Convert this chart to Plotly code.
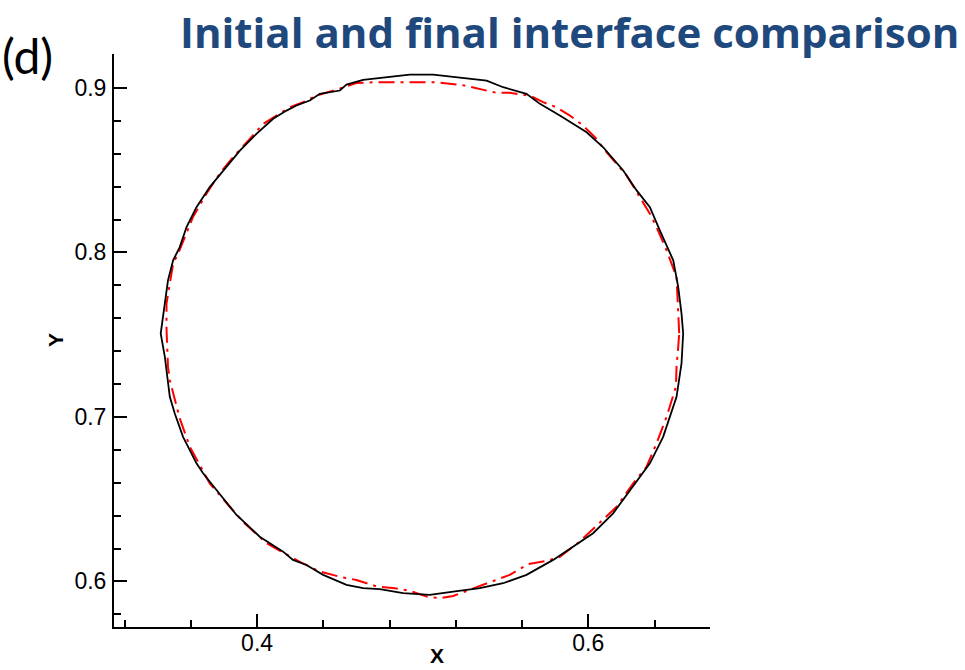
import plotly.graph_objects as go

# Final interface (solid black contour), traced counter-clockwise from x max
final_x = [0.6573, 0.6563, 0.6543, 0.6513, 0.6432, 0.6372, 0.6292, 0.6211, 0.6090, 0.5990,
           0.5828, 0.5708, 0.5627, 0.5486, 0.5386, 0.5224, 0.5063, 0.4922, 0.4761, 0.4640,
           0.4540, 0.4500, 0.4379, 0.4318, 0.4238, 0.4178, 0.4097, 0.3996, 0.3896, 0.3815,
           0.3714, 0.3634, 0.3574, 0.3533, 0.3493, 0.3462, 0.3432, 0.3418, 0.3443, 0.3453,
           0.3473, 0.3503, 0.3553, 0.3634, 0.3674, 0.3755, 0.3876, 0.4016, 0.4157, 0.4217,
           0.4298, 0.4399, 0.4540, 0.4640, 0.4741, 0.4882, 0.5043, 0.5184, 0.5345, 0.5486,
           0.5627, 0.5788, 0.5909, 0.6029, 0.6150, 0.6271, 0.6372, 0.6452, 0.6493, 0.6533,
           0.6563, 0.6573]
final_y = [0.7507, 0.7628, 0.7790, 0.7952, 0.8134, 0.8275, 0.8377, 0.8498, 0.8639, 0.8730,
           0.8832, 0.8903, 0.8964, 0.9004, 0.9044, 0.9064, 0.9081, 0.9081, 0.9061, 0.9049,
           0.9020, 0.8984, 0.8964, 0.8923, 0.8893, 0.8862, 0.8812, 0.8721, 0.8619, 0.8518,
           0.8397, 0.8275, 0.8154, 0.8032, 0.7952, 0.7830, 0.7588, 0.7507, 0.7365, 0.7284,
           0.7122, 0.7021, 0.6879, 0.6718, 0.6657, 0.6556, 0.6404, 0.6272, 0.6181, 0.6131,
           0.6100, 0.6040, 0.5979, 0.5959, 0.5953, 0.5929, 0.5918, 0.5938, 0.5959, 0.5989,
           0.6040, 0.6131, 0.6211, 0.6293, 0.6414, 0.6576, 0.6718, 0.6879, 0.7001, 0.7122,
           0.7325, 0.7507]

# Initial interface (red dash-dot contour)
initial_x = [0.6549, 0.6543, 0.6533, 0.6473, 0.6412, 0.6372, 0.6311, 0.6231, 0.6110, 0.6050,
             0.5969, 0.5889, 0.5808, 0.5727, 0.5647, 0.5526, 0.5446, 0.5345, 0.5235, 0.5063,
             0.4892, 0.4721, 0.4600, 0.4500, 0.4359, 0.4278, 0.4198, 0.4097, 0.4036, 0.3956,
             0.3855, 0.3775, 0.3694, 0.3613, 0.3574, 0.3523, 0.3493, 0.3453, 0.3453, 0.3459,
             0.3462, 0.3473, 0.3513, 0.3533, 0.3594, 0.3714, 0.3835, 0.3915, 0.4057, 0.4258,
             0.4379, 0.4500, 0.4600, 0.4721, 0.4832, 0.4922, 0.5031, 0.5103, 0.5184, 0.5273,
             0.5387, 0.5526, 0.5637, 0.5748, 0.5828, 0.5949, 0.5990, 0.6171, 0.6271, 0.6352,
             0.6412, 0.6473, 0.6529, 0.6533, 0.6544, 0.6549]
initial_y = [0.7509, 0.7668, 0.7850, 0.8012, 0.8154, 0.8235, 0.8336, 0.8468, 0.8609, 0.8690,
             0.8771, 0.8832, 0.8882, 0.8913, 0.8953, 0.8970, 0.8970, 0.8994, 0.9018, 0.9035,
             0.9035, 0.9035, 0.9030, 0.8996, 0.8953, 0.8913, 0.8882, 0.8822, 0.8781, 0.8690,
             0.8579, 0.8480, 0.8357, 0.8215, 0.8114, 0.7992, 0.7932, 0.7689, 0.7539, 0.7418,
             0.7304, 0.7223, 0.7061, 0.6991, 0.6818, 0.6596, 0.6454, 0.6363, 0.6232, 0.6119,
             0.6060, 0.6028, 0.6009, 0.5970, 0.5958, 0.5943, 0.5906, 0.5898, 0.5912, 0.5946,
             0.5989, 0.6040, 0.6105, 0.6125, 0.6149, 0.6242, 0.6282, 0.6454, 0.6596, 0.6697,
             0.6839, 0.7001, 0.7183, 0.7304, 0.7436, 0.7509]

title_text = "Initial and final interface comparison"
panel_label = "(d)"
x_label = "X"
y_label = "Y"

# plot-area geometry in pixels (figure 965 x 670)
L, R, T, B = 114, 710, 54, 627
W, H = R - L, B - T


def px(xp):
    return (xp - L) / W


def py(yp):
    return (B - yp) / H


fig = go.Figure()
fig.add_trace(go.Scatter(
    x=initial_x, y=initial_y, mode="lines",
    line=dict(color="#ff0000", width=2, dash="16px,6px,3px,6px"),
    showlegend=False, hoverinfo="skip",
))
fig.add_trace(go.Scatter(
    x=final_x, y=final_y, mode="lines",
    line=dict(color="#000000", width=1.8),
    showlegend=False, hoverinfo="skip",
))

tick_font = dict(family="Liberation Sans, Arial, sans-serif", size=23, color="#000000")

fig.update_xaxes(
    range=[0.3136, 0.6735], showgrid=False, zeroline=False, automargin=False,
    showline=True, linecolor="#000000", linewidth=2,
    ticks="inside", ticklen=13, tickwidth=2, tickcolor="#000000",
    tick0=0, dtick=0.2, tickformat=".1f", tickfont=tick_font, ticklabelstandoff=-6,
    minor=dict(ticks="inside", ticklen=7, tickwidth=1.5, tickcolor="#000000", tick0=0, dtick=0.04),
)
fig.update_yaxes(
    range=[0.5723, 0.9206], showgrid=False, zeroline=False, automargin=False,
    showline=True, linecolor="#000000", linewidth=2,
    ticks="inside", ticklen=13, tickwidth=2, tickcolor="#000000",
    tick0=0, dtick=0.1, tickformat=".1f", tickfont=tick_font, ticklabelstandoff=1,
    minor=dict(ticks="inside", ticklen=7, tickwidth=1.5, tickcolor="#000000", tick0=0, dtick=0.02),
)

axis_title_font = dict(family="Liberation Sans, Arial", size=21, color="#000000")
fig.add_annotation(
    text="<b>" + x_label + "</b>", xref="paper", yref="paper",
    x=px(437), y=py(669), xanchor="center", yanchor="bottom",
    showarrow=False, font=axis_title_font,
)
fig.add_annotation(
    text="<b>" + y_label + "</b>", xref="paper", yref="paper",
    x=px(55), y=py(340), xanchor="center", yanchor="middle", textangle=-90,
    showarrow=False, font=axis_title_font,
)

fig.add_annotation(
    text="<b>" + title_text + "</b>", xref="paper", yref="paper",
    x=px(961), y=py(1), xanchor="right", yanchor="top",
    showarrow=False, font=dict(family="Open Sans, sans-serif", size=42, color="#1f497d"),
)
fig.add_annotation(
    text=panel_label, xref="paper", yref="paper",
    x=px(0), y=py(56), xanchor="left", yanchor="middle",
    showarrow=False, font=dict(family="Lato, sans-serif", size=48, color="#000000"),
)

fig.update_layout(
    width=965, height=670,
    margin=dict(l=L, r=965 - R, t=T, b=670 - B),
    paper_bgcolor="#ffffff", plot_bgcolor="#ffffff",
)

fig.write_html("out.html")
